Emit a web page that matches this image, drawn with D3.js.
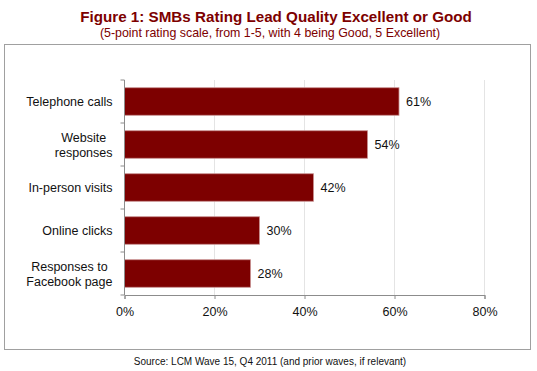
<!DOCTYPE html>
<html>
<head>
<meta charset="utf-8">
<script src="https://cdn.jsdelivr.net/npm/d3@7"></script>
<style>
  body { margin: 0; background: #fff; }
  text { font-family: "Liberation Sans", Arial, sans-serif; }
</style>
</head>
<body>
<div id="chart"></div>
<script>
var svgWidth = 537;
var svgHeight = 371;

// data
var categories = ["Telephone calls", "Website\nresponses", "In-person visits", "Online clicks", "Responses to\nFacebook page"];
var values = [61, 54, 42, 30, 28];
var xTicks = [0, 20, 40, 60, 80];

var margin = { top: 80, left: 124.5, right: 52.5, bottom: 76 };
var width = svgWidth - margin.left - margin.right;
var height = svgHeight - margin.top - margin.bottom;

var red = "#7d0000";

var svg = d3.select("#chart")
  .append("svg")
  .attr("width", svgWidth)
  .attr("height", svgHeight);

svg.append("rect")
  .attr("width", "100%")
  .attr("height", "100%")
  .attr("fill", "#fff");

// titles
svg.append("text")
  .attr("x", 276)
  .attr("y", 22)
  .attr("text-anchor", "middle")
  .style("font-size", "15.2px")
  .style("font-weight", "bold")
  .attr("fill", red)
  .text("Figure 1: SMBs Rating Lead Quality Excellent or Good");

svg.append("text")
  .attr("x", 270)
  .attr("y", 37)
  .attr("text-anchor", "middle")
  .style("font-size", "12.4px")
  .attr("fill", red)
  .text("(5-point rating scale, from 1-5, with 4 being Good, 5 Excellent)");

// frame
svg.append("rect")
  .attr("x", 4.5)
  .attr("y", 44.5)
  .attr("width", 526)
  .attr("height", 305)
  .attr("fill", "none")
  .attr("stroke", "#a0a0a0")
  .attr("stroke-width", 1);

svg.append("text")
  .attr("x", 270)
  .attr("y", 365)
  .attr("text-anchor", "middle")
  .style("font-size", "10px")
  .attr("fill", "#111")
  .text("Source: LCM Wave 15, Q4 2011 (and prior waves, if relevant)");

var chartGroup = svg.append("g")
  .attr("transform", `translate(${margin.left}, ${margin.top})`);

var xScale = d3.scaleLinear()
  .domain([0, 80])
  .range([0, width]);

var yScale = d3.scaleBand()
  .domain(categories)
  .range([0, height])
  .paddingInner(0.36)
  .paddingOuter(0.18);

// gridlines
chartGroup.selectAll(".grid")
  .data(xTicks.slice(1))
  .enter()
  .append("line")
  .attr("x1", d => xScale(d))
  .attr("x2", d => xScale(d))
  .attr("y1", 0)
  .attr("y2", height)
  .attr("stroke", "#e4e4e4")
  .attr("stroke-width", 1);

// bars
chartGroup.selectAll(".bar")
  .data(values)
  .enter()
  .append("rect")
  .attr("x", 0)
  .attr("y", (d, i) => yScale(categories[i]))
  .attr("width", d => xScale(d))
  .attr("height", yScale.bandwidth())
  .attr("fill", red)
  .attr("stroke", "#c89090")
  .attr("stroke-width", 0.8);

// value labels
chartGroup.selectAll(".val")
  .data(values)
  .enter()
  .append("text")
  .attr("x", d => xScale(d) + 7)
  .attr("y", (d, i) => yScale(categories[i]) + yScale.bandwidth() / 2)
  .attr("dy", "0.36em")
  .style("font-size", "12.5px")
  .attr("fill", "#111")
  .text(d => d + "%");

// bottom axis
var xAxis = d3.axisBottom(xScale)
  .tickValues(xTicks)
  .tickFormat(d => d + "%")
  .tickSizeOuter(0)
  .tickSize(4)
  .tickPadding(8);

var gx = chartGroup.append("g")
  .attr("transform", `translate(0, ${height})`)
  .call(xAxis);
gx.select(".domain").attr("stroke", "#8c8c8c");
gx.selectAll(".tick line").attr("stroke", "#8c8c8c");
gx.selectAll(".tick text")
  .style("font-size", "12.5px")
  .style("font-family", "Liberation Sans, Arial, sans-serif")
  .attr("fill", "#111");

// left axis line with ticks at band boundaries
var bounds = d3.range(categories.length + 1).map(i => i * height / categories.length);
chartGroup.append("line")
  .attr("x1", 0).attr("x2", 0)
  .attr("y1", 0).attr("y2", height)
  .attr("stroke", "#8c8c8c");
chartGroup.selectAll(".ytick")
  .data(bounds)
  .enter()
  .append("line")
  .attr("x1", -4).attr("x2", 0)
  .attr("y1", d => d).attr("y2", d => d)
  .attr("stroke", "#8c8c8c");

// category labels, multi-line centered, right edge 12px from axis
categories.forEach(function(c) {
  var lines = c.split("\n");
  var cy = yScale(c) + yScale.bandwidth() / 2;
  var t = chartGroup.append("text")
    .attr("text-anchor", "middle")
    .style("font-size", "12.5px")
    .attr("fill", "#111");
  lines.forEach(function(l, j) {
    t.append("tspan")
      .attr("x", 0)
      .attr("y", cy + (j - (lines.length - 1) / 2) * 15)
      .attr("dy", "0.36em")
      .text(l);
  });
  var w = t.node().getBBox().width;
  t.attr("transform", `translate(${-12 - w / 2}, 0)`);
});
</script>
</body>
</html>
